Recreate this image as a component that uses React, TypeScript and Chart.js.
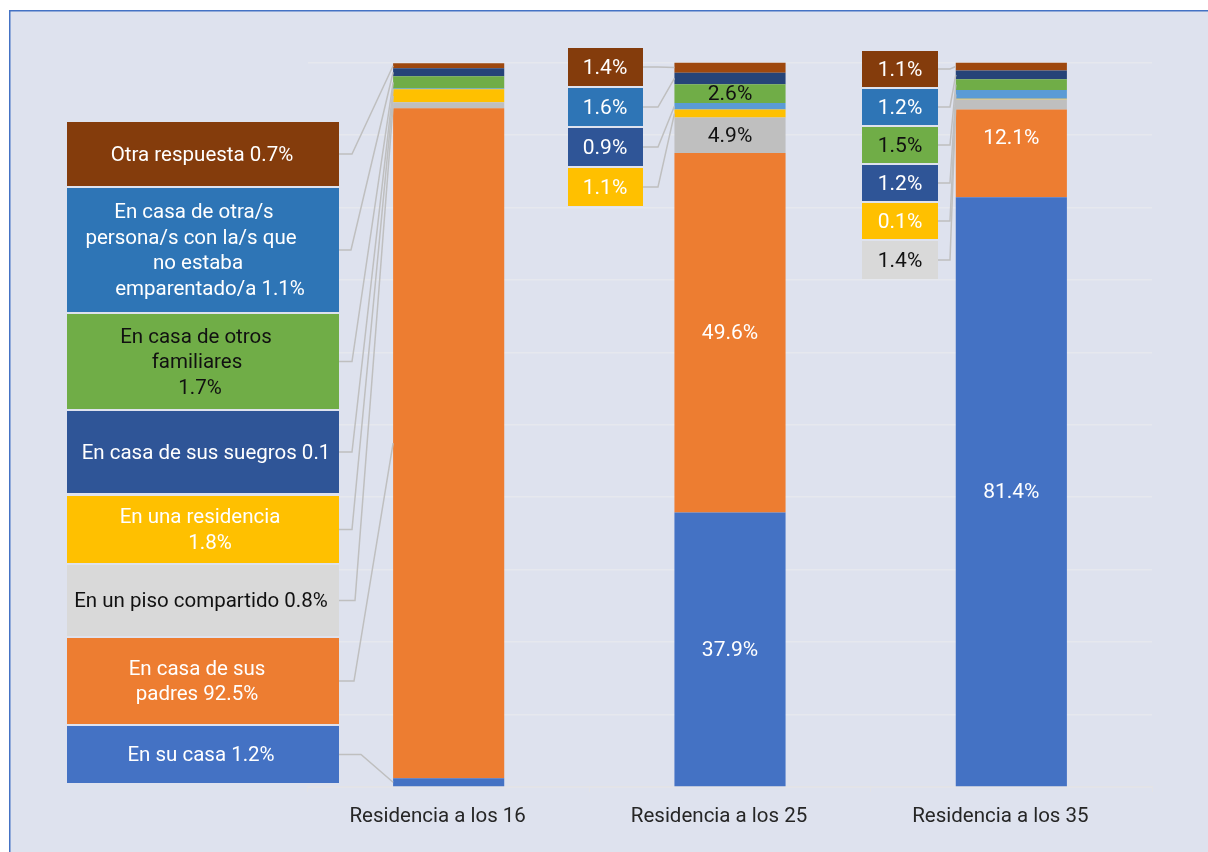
import { useEffect, useRef } from 'react';
import { Chart, registerables } from 'chart.js';

Chart.register(...registerables);

// ---------- data ----------
const categories = ['Residencia a los 16', 'Residencia a los 25', 'Residencia a los 35'];
const seriesNames = [
  'En su casa',
  'En casa de sus padres',
  'En un piso compartido',
  'En una residencia',
  'En casa de sus suegros',
  'En casa de otros familiares',
  'En casa de otra/s persona/s con la/s que no estaba emparentado/a',
  'Otra respuesta',
];
const enSuCasa = [1.2, 37.9, 81.4];
const enCasaPadres = [92.5, 49.6, 12.1];
const pisoCompartido = [0.8, 4.9, 1.4];
const residencia = [1.8, 1.1, 0.1];
const suegros = [0.1, 0.9, 1.2];
const otrosFamiliares = [1.7, 2.6, 1.5];
const otraPersona = [1.1, 1.6, 1.2];
const otraRespuesta = [0.7, 1.4, 1.1];
const yTicks = [0, 10, 20, 30, 40, 50, 60, 70, 80, 90, 100];

const seriesValues = [enSuCasa, enCasaPadres, pisoCompartido, residencia, suegros, otrosFamiliares, otraPersona, otraRespuesta];

// ---------- styles ----------
const barColors = ['#4472C4', '#ED7D31', '#BFBFBF', '#FFC000', '#5B9BD5', '#70AD47', '#264478', '#9E480E'];
const boxColors = ['#4472C4', '#ED7D31', '#D9D9D9', '#FFC000', '#2F5597', '#70AD47', '#2E75B6', '#843C0C'];
const textColors = ['#ffffff', '#ffffff', '#111111', '#ffffff', '#ffffff', '#111111', '#ffffff', '#ffffff'];

const LABEL_FONT = '20.5px Roboto';
const PCT_FONT = '21px Roboto';
const LINE_COLOR = '#BFBFBF';

// Category 0 (16): descriptive boxes on the left
const leftLines: string[][] = [
  ['En su casa {v}%'],
  ['En casa de sus', 'padres {v}%'],
  ['En un piso compartido {v}%'],
  ['En una residencia', '{v}%'],
  ['En casa de sus suegros {v}'],
  ['En casa de otros', 'familiares', '{v}%'],
  ['En casa de otra/s', 'persona/s con la/s que', 'no estaba', 'emparentado/a {v}%'],
  ['Otra respuesta {v}%'],
];
const leftLineX: number[][] = [
  [201], [197, 197], [201], [200, 210], [206], [196, 197, 200], [194, 191, 198, 210], [202],
];
const leftBoxY: number[][] = [
  [726, 783], [638, 724], [565, 636], [496, 563], [411, 493], [314, 409], [188, 312], [122, 186],
];
const leftElbow = [361, 354, 355, 352, 352, 352, 351, 352];

type Callout = {
  cat: number; series: number; x0: number; x1: number; y0: number; y1: number;
  elbow: number; lines: string[]; lineX: number[]; font: string;
};

const callouts: Callout[] = [];
for (let s = 0; s < 8; s++) {
  callouts.push({
    cat: 0, series: s, x0: 67, x1: 339, y0: leftBoxY[s][0], y1: leftBoxY[s][1],
    elbow: leftElbow[s], lines: leftLines[s], lineX: leftLineX[s], font: LABEL_FONT,
  });
}
const c25Series = [7, 6, 4, 3];
const c25Y = [[48, 86], [88, 126], [128, 166], [168, 206]];
c25Series.forEach((s, i) => callouts.push({
  cat: 1, series: s, x0: 568, x1: 643, y0: c25Y[i][0], y1: c25Y[i][1],
  elbow: 658, lines: ['{v}%'], lineX: [605], font: PCT_FONT,
}));
const c35Series = [7, 6, 5, 4, 3, 2];
const c35Y = [[51, 87], [89, 125], [127, 163], [165, 201], [203, 239], [241, 279]];
c35Series.forEach((s, i) => callouts.push({
  cat: 2, series: s, x0: 862, x1: 938, y0: c35Y[i][0], y1: c35Y[i][1],
  elbow: 950, lines: ['{v}%'], lineX: [900], font: PCT_FONT,
}));

const innerLabels = [
  { cat: 1, series: 5, dy: 0 },
  { cat: 1, series: 2, dy: 0 },
  { cat: 1, series: 1, dy: 0 },
  { cat: 1, series: 0, dy: 0 },
  { cat: 2, series: 1, dy: -16 },
  { cat: 2, series: 0, dy: 0 },
];

const fmt = (v: number) => v.toFixed(1);

const backgroundPlugin = {
  id: 'bgPanel',
  beforeDraw(chart: any) {
    const { ctx, width, height } = chart;
    ctx.save();
    ctx.fillStyle = '#ffffff';
    ctx.fillRect(0, 0, width, height);
    ctx.fillStyle = '#DEE2EE';
    ctx.fillRect(9, 10, width - 9, height - 10);
    ctx.strokeStyle = '#4472C4';
    ctx.lineWidth = 1.5;
    ctx.beginPath();
    ctx.moveTo(9.75, height);
    ctx.lineTo(9.75, 10.75);
    ctx.lineTo(width, 10.75);
    ctx.stroke();
    ctx.restore();
  },
};

const calloutPlugin = {
  id: 'callouts',
  afterDatasetsDraw(chart: any) {
    const ctx = chart.ctx as CanvasRenderingContext2D;
    ctx.save();
    // leader lines
    ctx.strokeStyle = LINE_COLOR;
    ctx.lineWidth = 1.5;
    for (const c of callouts) {
      const el = chart.getDatasetMeta(c.series).data[c.cat];
      const p = el.getProps(['x', 'y', 'base', 'width'], true);
      const left = p.x - p.width / 2;
      const segY = (p.y + p.base) / 2;
      const by = (c.y0 + c.y1) / 2;
      ctx.beginPath();
      ctx.moveTo(c.x1, by);
      ctx.lineTo(c.elbow, by);
      ctx.lineTo(left, segY);
      ctx.stroke();
    }
    // boxes + text
    for (const c of callouts) {
      ctx.fillStyle = boxColors[c.series];
      ctx.fillRect(c.x0, c.y0, c.x1 - c.x0, c.y1 - c.y0);
      const v = fmt(seriesValues[c.series][c.cat]);
      ctx.fillStyle = textColors[c.series];
      ctx.font = c.font;
      ctx.textAlign = 'center';
      ctx.textBaseline = 'middle';
      const n = c.lines.length;
      const cy = (c.y0 + c.y1) / 2 + 1.5;
      c.lines.forEach((ln, i) => {
        ctx.fillText(ln.replace('{v}', v), c.lineX[i], cy + (i - (n - 1) / 2) * 25.5);
      });
    }
    // inner labels
    ctx.font = PCT_FONT;
    ctx.textAlign = 'center';
    ctx.textBaseline = 'middle';
    for (const l of innerLabels) {
      const el = chart.getDatasetMeta(l.series).data[l.cat];
      const p = el.getProps(['x', 'y', 'base'], true);
      ctx.fillStyle = textColors[l.series];
      ctx.fillText(fmt(seriesValues[l.series][l.cat]) + '%', p.x, (p.y + p.base) / 2 + 1 + l.dy);
    }
    ctx.restore();
  },
};

export default function App() {
  const ref = useRef<HTMLCanvasElement>(null);
  useEffect(() => {
    const chart = new Chart(ref.current as HTMLCanvasElement, {
      type: 'bar',
      data: {
        labels: categories,
        datasets: seriesNames.map((name, i) => ({
          label: name,
          data: seriesValues[i],
          backgroundColor: barColors[i],
          borderWidth: 0,
          categoryPercentage: 1,
          barPercentage: 0.395,
        })),
      },
      options: {
        responsive: false,
        animation: false,
        devicePixelRatio: 1,
        layout: { padding: { left: 308, right: 56, top: 62.5, bottom: 0 } },
        plugins: { legend: { display: false }, tooltip: { enabled: false } },
        scales: {
          x: {
            stacked: true,
            grid: { display: true, drawOnChartArea: false, drawTicks: true, tickLength: 5, color: '#E3E3E6' },
            border: { display: true, color: '#E3E3E6', width: 1.5 },
            ticks: { color: '#262626', font: { family: 'Roboto', size: 20.5 }, padding: 13, labelOffset: -11 },
            afterFit: (s: any) => { s.height = 852 - 787; },
          },
          y: {
            stacked: true,
            min: 0,
            max: 100,
            afterBuildTicks: (s: any) => { s.ticks = yTicks.map((v) => ({ value: v })); },
            ticks: { display: false },
            grid: { color: '#E6E8EE', lineWidth: 1.5, drawTicks: false },
            border: { display: false },
            afterFit: (s: any) => { s.width = 0; },
          },
        },
      },
      plugins: [backgroundPlugin, calloutPlugin],
    });
    return () => chart.destroy();
  }, []);
  return (
    <div style={{ position: 'fixed', left: 0, top: 0, width: 1208, height: 852, background: '#fff' }}>
      <canvas ref={ref} width={1208} height={852} style={{ display: 'block', width: 1208, height: 852 }} />
    </div>
  );
}
